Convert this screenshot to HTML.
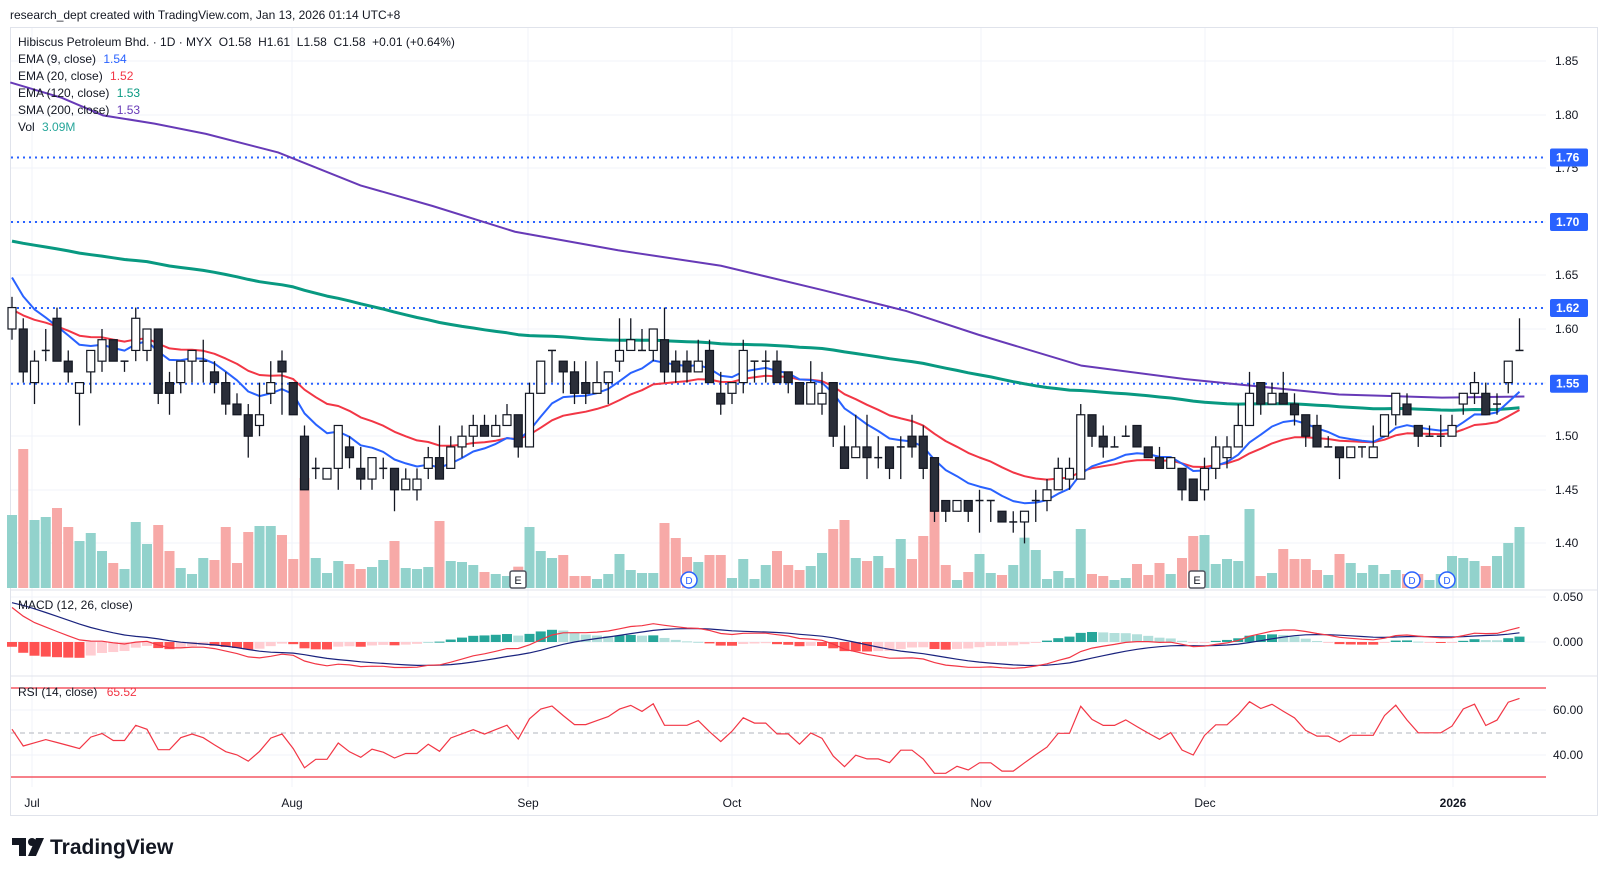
<!DOCTYPE html>
<html><head><meta charset="utf-8"><style>
html,body{margin:0;padding:0;background:#fff;width:1607px;height:875px;overflow:hidden;font-family:"Liberation Sans",sans-serif;}
</style></head><body>
<svg id="s" width="1607" height="875" xmlns="http://www.w3.org/2000/svg" style="position:absolute;left:0;top:0;font-family:'Liberation Sans',sans-serif"></svg>
<script>
const B=[[160,162,163,159],[160,156,161,155],[155,157,158,153],[158,158,160,157],[161,157,162,157],[157,156,158,155],[154,155,155,151],[156,158,158,154],[157,159,160,156],[159,157,159,157],
[157,157,157,156],[158,161,162,157],[158,160,160,157],[160,154,160,153],[155,154,156,152],[155,157,157,154],[157,158,158,155],[157,157,159,155],[156,155,157,154],[155,153,156,152],
[153,152,154,152],[152,150,153,148],[151,152,155,150],[154,155,157,153],[157,156,158,152],[155,152,155,152],[150,145,151,145],[147,147,148,146],[146,147,147,146],[147,151,151,145],
[149,148,150,147],[147,146,149,145],[146,148,148,145],[147,147,148,146],[147,145,147,143],[145,146,147,145],[145,146,147,144],[147,148,149,146],[148,146,151,146],[147,149,150,147],
[149,150,151,148],[150,151,152,149],[151,150,152,150],[150,151,152,150],[151,152,153,151],[152,149,152,148],[149,154,155,149],[154,157,157,154],[158,158,158,155],[157,156,157,154],
[156,154,157,153],[155,154,157,153],[154,155,157,154],[155,156,156,153],[157,158,161,156],[158,159,161,158],[158,158,160,158],[158,160,160,157],[159,156,162,155],[157,156,158,155],
[157,156,158,155],[156,157,159,156],[158,155,159,155],[154,153,156,152],[154,155,155,153],[155,158,159,154],[157,157,157,155],[157,157,158,155],[157,155,158,155],[156,155,156,154],
[155,153,155,153],[153,155,157,153],[153,154,156,152],[155,150,155,149],[149,147,151,147],[148,149,152,148],[149,148,152,146],[148,148,150,147],[149,147,149,146],[149,149,150,146],
[150,149,152,148],[150,147,151,146],[148,143,148,142],[144,143,144,142],[143,144,144,143],[144,143,144,142],[144,144,145,141],[144,144,144,142],[143,142,143,142],[142,142,143,141],
[142,143,143,140],[144,144,145,142],[144,145,146,143],[145,147,148,145],[146,147,148,145],[146,152,153,146],[152,150,152,149],[150,149,151,148],[149,149,150,149],[150,150,151,150],
[151,149,151,149],[149,148,149,148],[148,147,149,147],[147,148,148,147],[147,145,147,144],[146,144,146,144],[145,147,148,144],[147,149,150,146],[148,149,150,147],[149,151,153,149],
[151,154,156,151],[155,153,155,152],[153,154,155,153],[154,153,156,153],[153,152,154,151],[152,150,152,149],[151,149,152,149],[149,149,150,149],[149,148,149,146],[148,149,149,148],
[149,149,149,148],[148,149,151,148],[150,152,152,150],[152,154,154,151],[153,152,154,152],[151,150,151,149],[150,150,151,150],[150,150,152,149],[150,151,152,150],[153,154,154,152],
[154,155,156,153],[154,152,155,152],[153,153,154,152],[155,157,157,154],[158,158,161,158]];
const VZ=[705,507,720,711,684,741,783,759,813,849,867,726,792,735,813,864,882,834,840,741,849,756,738,738,765,837,594,834,879,843,852,867,861,840,783,864,867,861,723,843,846,855,876,882,888,860,
741,813,834,825,888,888,897,882,822,870,879,879,729,774,831,846,825,825,894,837,897,855,813,855,870,858,819,747,720,834,843,828,864,777,837,768,567,855,900,876,822,879,885,855,
773,810,897,873,894,747,882,888,900,894,852,885,849,882,834,768,765,852,837,843,687,888,879,807,837,837,870,885,822,849,879,855,882,870,882,882,900,882,828,834,843,858,828,789,741];
const X=i=>12+i*11.25, Y=c=>329+(160-c)*10.72;
let h='';
const L=(x1,y1,x2,y2,c,w,extra)=>`<line x1="${x1}" y1="${y1}" x2="${x2}" y2="${y2}" stroke="${c}" stroke-width="${w||1}" ${extra||''}/>`;
const T=(x,y,t,o)=>`<text x="${x}" y="${y}" ${o||''}>${t}</text>`;
h+=`<rect x="10.5" y="27.5" width="1587" height="788" fill="#fff" stroke="#e0e3eb"/>`;
[61,115,168,222,275,329,383,436,490,543].forEach(y=>h+=L(11,y,1546,y,'#f0f3fa'));
[32,292,528,732,981,1205,1453].forEach(x=>h+=L(x,28,x,787,'#f0f3fa'));
[597,642].forEach(y=>h+=L(11,y,1546,y,'#f0f3fa'));
[710,755].forEach(y=>h+=L(11,y,1546,y,'#f0f3fa'));
h+=L(11,590,1597,590,'#e0e3eb');h+=L(11,676,1597,676,'#e0e3eb');
B.forEach((b,i)=>{const top=280+VZ[i]/3;const up=b[1]>=b[0];h+=`<rect x="${X(i)-5}" y="${top}" width="10" height="${Math.max(588-top,1)}" fill="${up?'#92d2cc':'#f7a9a7'}"/>`;});
[[1.76,157.5],[1.70,222],[1.62,308],[1.55,383.7]].forEach(a=>h+=L(11,a[1],1546,a[1],'#2962ff',2,'stroke-dasharray="2,4"'));
const sp=[[10,80],[60,95],[100,112],[150,120],[200,130],[270,148],[350,180],[420,200],[500,225],[600,243],[700,258],[800,282],[880,302],[950,325],[1050,355],[1150,368],[1220,375],[1300,383],[1400,386],[1480,385]];
h+=`<polyline fill="none" stroke="#673ab7" stroke-width="2" points="${sp.map(p=>(p[0]*1.03)+','+(p[1]*1.03)).join(' ')}"/>`;
function ema(n,seed){let a=2/(n+1),e=seed,r=[];B.forEach(b=>{e=e+a*(b[1]-e);r.push(e)});return r;}
const e120=ema(120,168.3),e20=ema(20,161.8),e9=ema(9,165.5);
const pl=(arr,c,w)=>`<polyline fill="none" stroke="${c}" stroke-width="${w}" stroke-linejoin="round" points="${arr.map((v,i)=>X(i)+','+Y(v).toFixed(1)).join(' ')}"/>`;
h+=pl(e120,'#089981',3);h+=pl(e20,'#f23645',2);h+=pl(e9,'#2962ff',2);
B.forEach((b,i)=>{const x=X(i),[o,c,hi,lo]=b;const up=c>=o;h+=L(x,Y(hi),x,Y(lo),'#131722',1.3);
 if(o===c){h+=L(x-4,Y(c),x+4,Y(c),'#131722',1.5);}
 else{const t=Y(Math.max(o,c)),bt=Y(Math.min(o,c));h+=`<rect x="${x-4}" y="${t}" width="8" height="${bt-t}" fill="${up?'#fff':'#2a2e39'}" stroke="#131722" stroke-width="1.2"/>`;}});
[[518,'E'],[1197,'E']].forEach(m=>{h+=`<rect x="${m[0]-8}" y="571" width="16" height="17" rx="2" fill="#fff" stroke="#50535e" stroke-width="1.5"/>`+T(m[0],584,'E','font-size="11" text-anchor="middle" fill="#131722"');});
[689,1412,1447].forEach(x=>{h+=`<circle cx="${x}" cy="580" r="8" fill="#fff" stroke="#2962ff" stroke-width="1.5"/>`+T(x,584,'D','font-size="10" text-anchor="middle" fill="#2962ff"');});
let a12=165,a26=160.6,sg=4.5,mac=[],sig=[];B.forEach(b=>{a12+=2/13*(b[1]-a12);a26+=2/27*(b[1]-a26);const m=a12-a26;sg+=0.2*(m-sg);mac.push(m);sig.push(sg);});
const MY=v=>642-v/100*900;let prev=0;
mac.forEach((m,i)=>{const hv=m-sig[i];const grow=Math.abs(hv)>=Math.abs(prev);const col=hv>=0?(grow?'#26a69a':'#b2dfdb'):(grow?'#ff5252':'#ffcdd2');prev=hv;const y1=MY(hv);h+=`<rect x="${X(i)-5}" y="${Math.min(y1,642)}" width="10" height="${Math.max(Math.abs(y1-642),1)}" fill="${col}"/>`;});
h+=`<polyline fill="none" stroke="#1a237e" stroke-width="1.2" points="${sig.map((v,i)=>X(i)+','+MY(v).toFixed(1)).join(' ')}"/>`;
h+=`<polyline fill="none" stroke="#f23645" stroke-width="1.2" points="${mac.map((v,i)=>X(i)+','+MY(v).toFixed(1)).join(' ')}"/>`;
h+=L(11,688,1546,688,'#f23645',1.2);h+=L(11,777,1546,777,'#f23645',1.2);h+=L(11,733,1546,733,'#b2b5be',1,'stroke-dasharray="5,4"');
let ag=1.5,al=1.4,rs=[];B.forEach((b,i)=>{const d=i?b[1]-B[i-1][1]:0;ag=(ag*13+Math.max(d,0))/14;al=(al*13+Math.max(-d,0))/14;rs.push(100-100/(1+ag/al));});
h+=`<polyline fill="none" stroke="#f23645" stroke-width="1.2" points="${rs.map((v,i)=>X(i)+','+(733-(v-50)*2.23).toFixed(1)).join(' ')}"/>`;
[['1.85',61],['1.80',115],['1.75',168],['1.65',275],['1.60',329],['1.50',436],['1.45',490],['1.40',543]].forEach(a=>h+=T(1555,a[1]+4,a[0],'font-size="12" fill="#131722"'));
[['1.76',157.5],['1.70',222],['1.62',308],['1.55',383.7]].forEach(a=>{h+=`<rect x="1550" y="${a[1]-9}" width="38" height="18" rx="2" fill="#2962ff"/>`+T(1556,a[1]+4,a[0],'font-size="12" font-weight="bold" fill="#fff"');});
h+=T(1553,601,'0.050','font-size="12" fill="#131722"')+T(1553,646,'0.000','font-size="12" fill="#131722"');
h+=T(1553,714,'60.00','font-size="12" fill="#131722"')+T(1553,759,'40.00','font-size="12" fill="#131722"');
[['Jul',32],['Aug',292],['Sep',528],['Oct',732],['Nov',981],['Dec',1205]].forEach(a=>h+=T(a[1],807,a[0],'font-size="12" fill="#131722" text-anchor="middle"'));
h+=T(1453,807,'2026','font-size="12" font-weight="bold" fill="#131722" text-anchor="middle"');
h+=T(10,19,'research_dept created with TradingView.com, Jan 13, 2026 01:14 UTC+8','font-size="12" fill="#131722"');
h+=T(18,46,'Hibiscus Petroleum Bhd. · 1D · MYX &#160;O1.58 &#160;H1.61 &#160;L1.58 &#160;C1.58 &#160;+0.01 (+0.64%)','font-size="12" fill="#131722"');
[['EMA (9, close)','1.54','#2962ff',63],['EMA (20, close)','1.52','#f23645',80],['EMA (120, close)','1.53','#089981',97],['SMA (200, close)','1.53','#673ab7',114],['Vol','3.09M','#26a69a',131]].forEach(a=>{h+=`<text x="18" y="${a[3]}" font-size="12" fill="#131722">${a[0]} <tspan fill="${a[2]}" dx="4">${a[1]}</tspan></text>`;});
h+=T(18,609,'MACD (12, 26, close)','font-size="12" fill="#131722"');
h+=`<text x="18" y="696" font-size="12" fill="#131722">RSI (14, close) <tspan fill="#f23645" dx="6">65.52</tspan></text>`;
h+=`<rect x="12" y="838" width="14" height="7" fill="#131722"/><rect x="19" y="838" width="7" height="18" fill="#131722"/><circle cx="32" cy="842" r="4" fill="#131722"/><polygon points="36,838 44,838 36,856 28,856" fill="#131722"/>`;
h+=T(50,854,'TradingView','font-size="21" font-weight="bold" fill="#131722"');
document.getElementById('s').innerHTML=h;
</script>
</body></html>
